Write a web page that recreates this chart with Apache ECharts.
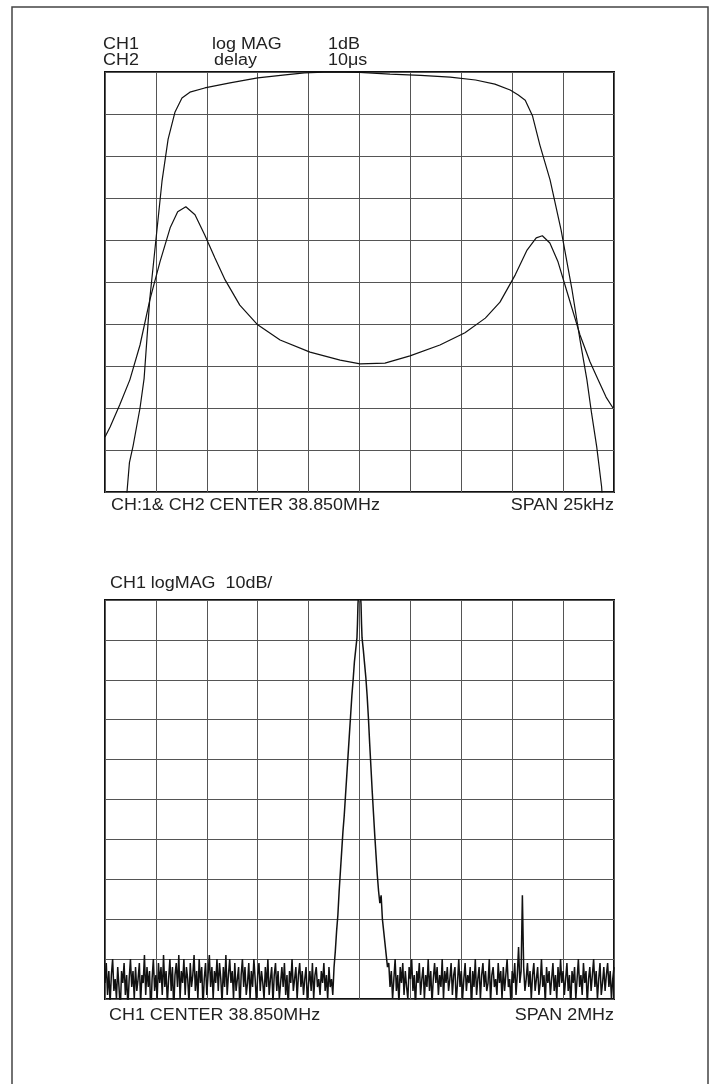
<!DOCTYPE html>
<html>
<head>
<meta charset="utf-8">
<script src="https://cdn.jsdelivr.net/npm/echarts@6/dist/echarts.min.js"></script>
<style>
  html, body { margin: 0; padding: 0; background: #fff; }
  #chart { width: 715px; height: 1084px; }
</style>
</head>
<body>
<div id="chart"></div>
<script>
// ---------- Top chart: CH1 log MAG (1 dB/div) and CH2 delay (10 us/div), span 25 kHz ----------
// x = offset from 38.850 MHz in kHz
const topXTicks = [-12.5, 12.5, 2.5];          // min, max, interval (kHz)
const ch1MagDb = [
  [-11.6,-10.6],[-11.42,-10.0],[-11.3,-9.3],[-11.12,-8.9],[-10.78,-8.0],[-10.58,-7.3],
  [-10.3,-5.4],[-10.0,-4.0],[-9.7,-2.6],[-9.4,-1.6],[-9.06,-0.95],[-8.72,-0.62],
  [-8.33,-0.48],[-7.6,-0.38],[-6.36,-0.26],[-5.0,-0.14],[-3.65,-0.07],[-2.7,-0.02],
  [-1.45,0],[0,-0.01],[1.5,-0.05],[3.0,-0.08],[4.45,-0.12],[5.7,-0.19],[6.65,-0.29],
  [7.4,-0.43],[7.8,-0.55],[8.14,-0.67],[8.5,-1.05],[8.86,-1.74],[9.36,-2.57],[9.9,-3.76],
  [10.44,-5.19],[10.83,-6.38],[11.17,-7.33],[11.4,-8.13],[11.65,-8.92],[11.89,-9.87],[12.0,-10.6]
];
const ch2DelayUs = [
  [-12.5,13.1],[-12.25,15.5],[-11.78,20.7],[-11.28,26.7],[-10.78,35.0],[-10.3,45.7],
  [-9.8,54.8],[-9.3,62.9],[-8.93,66.7],[-8.53,67.9],[-8.08,66.0],[-7.6,61.2],
  [-7.1,55.7],[-6.6,50.5],[-5.88,44.5],[-5.0,39.8],[-3.9,36.2],[-2.43,33.3],
  [-0.95,31.4],[0.03,30.5],[1.25,30.7],[2.48,32.4],[3.95,35.0],[5.18,37.9],
  [6.18,41.4],[6.9,45.2],[7.65,51.7],[8.23,57.6],[8.68,60.5],[8.98,61.0],
  [9.35,59.3],[9.75,54.8],[10.24,46.9],[10.83,37.4],[11.32,31.0],[11.72,26.7],
  [12.11,22.6],[12.45,20.0]
];

// ---------- Bottom chart: CH1 log MAG 10 dB/div, span 2 MHz ----------
const bottomXTicks = [-1000, 1000, 200];       // kHz
const noiseStepKHz = 5;
const noiseLeftStartKHz = -1000;
const noiseLeftDb = [
  -96,-91,-99,-93,-101,-94,-90,-98,-95,-100,
  -92,-97,-103,-93,-96,-91,-99,-94,-102,-95,
  -90,-97,-93,-100,-92,-98,-95,-91,-101,-94,
  -96,-89,-99,-92,-97,-93,-104,-95,-90,-98,
  -94,-100,-91,-96,-92,-99,-89,-97,-93,-101,
  -95,-90,-98,-92,-103,-94,-91,-97,-89,-100,
  -93,-96,-90,-99,-92,-95,-101,-91,-97,-94,
  -89,-98,-93,-100,-90,-96,-92,-102,-95,-91,
  -99,-94,-89,-97,-92,-100,-93,-96,-90,-98,
  -91,-95,-101,-92,-97,-89,-99,-94,-90,-96,
  -93,-100,-91,-98,-95,-92,-103,-94,-90,-97,
  -92,-99,-96,-91,-100,-93,-97,-90,-95,-101,
  -94,-91,-98,-93,-96,-100,-92,-97,-90,-99,
  -95,-92,-101,-94,-91,-98,-93,-100,-96,-92,
  -97,-91,-99,-94,-102,-93,-96,-90,-98,-95,
  -92,-100,-94,-91,-97,-93,-99,-95,-92,-101,
  -96,-93,-98,-91,-100,-94,-92,-97,-95,-99,
  -93,-96,-91,-98,-94,-100,-92,-97,-95,-99
];
const peakDb = [
  [-100,-92],[-95,-88],[-90,-83],[-85,-79],[-80,-73],[-75,-68],[-70,-63],[-65,-58],
  [-60,-54],[-55,-49],[-50,-44],[-45,-39],[-40,-34],[-35,-29],[-30,-24],[-25,-20],
  [-20,-15.5],[-15,-12.5],[-10,-9.5],[-8,-6],[-6,-1],[-4,1],[0,1],[4,1],[6,-1],
  [8,-6],[10,-9.5],[15,-12.5],[20,-16],[25,-19.5],[30,-24],[35,-29.5],[40,-36],
  [45,-42],[50,-48],[55,-53.5],[60,-59],[65,-64],[70,-69],[75,-73],[80,-76],
  [85,-74],[90,-80],[95,-83],[100,-86],[105,-89],[110,-92]
];
const noiseRightStartKHz = 115;
const noiseRightDb = [
  -91,-97,-93,-100,-95,-90,-98,-94,-101,-92,
  -96,-91,-99,-93,-97,-100,-92,-95,-90,-98,
  -94,-102,-93,-96,-91,-99,-95,-92,-100,-94,
  -97,-90,-98,-93,-101,-95,-91,-96,-92,-99,
  -94,-97,-90,-100,-93,-96,-92,-98,-95,-91,
  -99,-94,-92,-101,-96,-90,-97,-93,-100,-95,
  -91,-98,-94,-96,-92,-103,-93,-97,-90,-99,
  -95,-92,-100,-94,-91,-97,-93,-98,-96,-90,
  -101,-94,-92,-97,-95,-99,-91,-96,-93,-100,
  -92,-98,-94,-90,-97,-95,-101,-93,-96,-91,
  -99,-94,-87,-96,-93,-74,-92,-98,-95,-91,
  -97,-93,-100,-94,-91,-98,-95,-92,-99,-96,
  -90,-97,-94,-101,-92,-96,-93,-99,-95,-91,
  -98,-94,-100,-92,-97,-90,-96,-93,-99,-95,
  -91,-98,-94,-102,-93,-96,-92,-100,-95,-90,
  -97,-94,-99,-91,-96,-93,-101,-95,-92,-98,
  -94,-90,-97,-93,-100,-95,-91,-99,-96,-92,
  -98,-94,-91,-97,-93,-100,-95,-92
];

// ---------- text labels ----------
const topHeader = [["CH1","log MAG","1dB"],["CH2","delay","10\u03bcs"]];
const topFooter = ["CH:1& CH2 CENTER 38.850MHz", "SPAN 25kHz"];
const bottomHeader = "CH1 logMAG  10dB/";
const bottomFooter = ["CH1 CENTER 38.850MHz", "SPAN 2MHz"];

// build the bottom trace from the arrays
const bottomTrace = [];
noiseLeftDb.forEach((v, i) => bottomTrace.push([noiseLeftStartKHz + i * noiseStepKHz, v]));
peakDb.forEach(p => bottomTrace.push(p));
noiseRightDb.forEach((v, i) => bottomTrace.push([noiseRightStartKHz + i * noiseStepKHz, v]));

const FONT = '16px "Liberation Sans", Arial, sans-serif';
const TEXT_STRETCH = 1.12;
const TXT = '#222';
const GRIDC = '#555';

function xAx(gridIndex, t) {
  return {
    type: 'value', gridIndex, min: t[0], max: t[1], interval: t[2],
    axisLine: { show: false }, axisTick: { show: false }, axisLabel: { show: false },
    splitLine: { show: true, lineStyle: { color: GRIDC, width: 1 } }
  };
}
function yAx(gridIndex, min, max, interval, showSplit) {
  return {
    type: 'value', gridIndex, min, max, interval,
    axisLine: { show: false }, axisTick: { show: false }, axisLabel: { show: false },
    splitLine: { show: showSplit, lineStyle: { color: GRIDC, width: 1 } }
  };
}
function txt(text, x, y, align) {
  return { type: 'text', x, y, scaleX: TEXT_STRETCH, scaleY: 1,
    style: { text, font: FONT, fill: TXT, textAlign: align || 'left', textVerticalAlign: 'middle' }, z: 10 };
}

const chart = echarts.init(document.getElementById('chart'), null, { renderer: 'canvas' });
const lineStyle = { color: '#111', width: 1.2 };
chart.setOption({
  animation: false,
  backgroundColor: '#fff',
  grid: [
    { left: 105, top: 72, width: 509, height: 420, show: true, borderColor: '#111', borderWidth: 2, backgroundColor: 'transparent' },
    { left: 105, top: 600, width: 509, height: 399, show: true, borderColor: '#111', borderWidth: 2, backgroundColor: 'transparent' }
  ],
  xAxis: [ xAx(0, topXTicks), xAx(1, bottomXTicks) ],
  yAxis: [
    yAx(0, -10, 0, 1, true),
    yAx(0, 0, 100, 10, false),
    yAx(1, -100, 0, 10, true)
  ],
  series: [
    { type: 'line', name: 'CH1 log MAG', xAxisIndex: 0, yAxisIndex: 0, data: ch1MagDb, showSymbol: false, lineStyle, clip: true },
    { type: 'line', name: 'CH2 delay', xAxisIndex: 0, yAxisIndex: 1, data: ch2DelayUs, showSymbol: false, lineStyle, clip: true },
    { type: 'line', name: 'CH1 logMAG', xAxisIndex: 1, yAxisIndex: 2, data: bottomTrace, showSymbol: false, lineStyle: { color: '#111', width: 1.5 }, clip: true }
  ],
  graphic: [
    { type: 'rect', shape: { x: 12, y: 7, width: 696, height: 1100 }, style: { fill: 'none', stroke: '#444', lineWidth: 1.5 } },
    txt(topHeader[0][0], 103, 45), txt(topHeader[0][1], 212, 45), txt(topHeader[0][2], 328, 45),
    txt(topHeader[1][0], 103, 61), txt(topHeader[1][1], 214, 61), txt(topHeader[1][2], 328, 61),
    txt(topFooter[0], 111, 506), txt(topFooter[1], 614, 506, 'right'),
    txt(bottomHeader, 110, 584),
    txt(bottomFooter[0], 109, 1016), txt(bottomFooter[1], 614, 1016, 'right')
  ]
});
</script>
</body>
</html>
